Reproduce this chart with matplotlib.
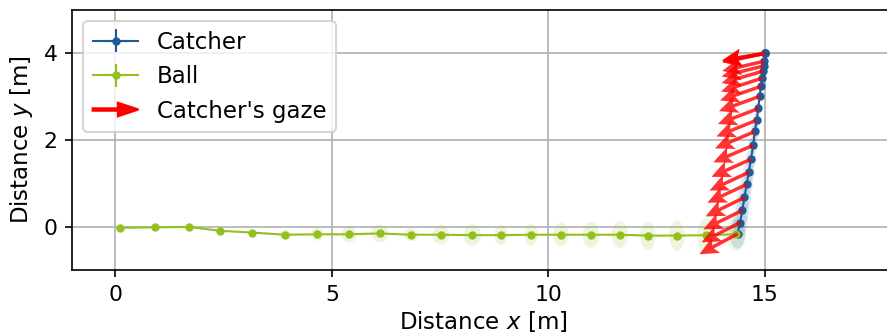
import matplotlib
matplotlib.use("Agg")
import matplotlib.pyplot as plt
import matplotlib.patches as mpatches
from matplotlib.legend_handler import HandlerPatch
import numpy as np

# positions (metres)
ball_x = [0.11, 0.92, 1.70, 2.42, 3.16, 3.92, 4.66, 5.40, 6.11, 6.83, 7.52,
          8.24, 8.91, 9.60, 10.29, 10.98, 11.65, 12.30, 12.97, 13.64, 14.33]
ball_y = [-0.02, -0.01, 0.0, -0.09, -0.13, -0.18, -0.17, -0.17, -0.15, -0.18, -0.18,
          -0.19, -0.19, -0.18, -0.18, -0.18, -0.18, -0.20, -0.20, -0.19, -0.17]
ball_w = [0.08, 0.10, 0.10, 0.12, 0.15, 0.28, 0.28, 0.35, 0.40, 0.35, 0.40,
          0.40, 0.31, 0.32, 0.35, 0.38, 0.38, 0.35, 0.35, 0.40, 0.45]
ball_h = [0.08, 0.10, 0.10, 0.12, 0.15, 0.23, 0.30, 0.38, 0.42, 0.30, 0.45,
          0.50, 0.46, 0.50, 0.55, 0.60, 0.62, 0.65, 0.70, 0.75, 0.75]

catcher_x = [15.0, 15.0, 15.0, 15.0, 14.99, 14.97, 14.96, 14.94, 14.91, 14.88, 14.85,
             14.81, 14.77, 14.73, 14.68, 14.63, 14.58, 14.53, 14.48, 14.43, 14.37]
catcher_y = [4.0, 4.0, 4.0, 4.0, 3.82, 3.71, 3.59, 3.43, 3.24, 3.01, 2.73,
             2.46, 2.20, 1.88, 1.56, 1.26, 0.98, 0.68, 0.38, 0.10, -0.16]
catcher_w = [0.08, 0.08, 0.08, 0.08, 0.10, 0.10, 0.12, 0.12, 0.14, 0.15, 0.16,
             0.18, 0.20, 0.22, 0.24, 0.26, 0.28, 0.30, 0.32, 0.34, 0.36]
catcher_h = [0.08, 0.08, 0.08, 0.08, 0.12, 0.14, 0.16, 0.18, 0.20, 0.24, 0.28,
             0.32, 0.36, 0.40, 0.44, 0.48, 0.52, 0.56, 0.60, 0.64, 0.68]

# gaze direction, degrees below the horizontal, pointing left
gaze_deg = [9, 10, 11, 12, 13, 14, 16, 18, 19, 20, 21,
            22, 23, 23, 24, 25, 25, 26, 26, 27, 28]

blue = "#1f5b98"
green = "#93c01f"


def make_arrow(legend, orig_handle, xdescent, ydescent, width, height, fontsize):
    return mpatches.FancyArrow(0, 0.5 * height, width, 0, width=0.15 * height,
                               head_width=0.85 * height, head_length=0.45 * width,
                               length_includes_head=True, color="red")


def main():
    plt.rcParams["font.size"] = 11
    plt.rcParams["xtick.labelsize"] = 10.5
    plt.rcParams["ytick.labelsize"] = 10.5
    fig = plt.figure(figsize=(887 / 150, 336 / 150), dpi=150)
    ax = fig.add_axes([72 / 887, (336 - 270.3) / 336, 822.7 / 887, 260.3 / 336])

    for x, y, w, h in zip(ball_x, ball_y, ball_w, ball_h):
        ax.add_patch(mpatches.Ellipse((x, y), w, h, color=green, alpha=0.15, lw=0))
    for x, y, w, h in zip(catcher_x, catcher_y, catcher_w, catcher_h):
        ax.add_patch(mpatches.Ellipse((x, y), w, h, color=blue, alpha=0.14, lw=0))

    zeros = np.zeros(len(ball_x))
    ax.errorbar(catcher_x, catcher_y, xerr=zeros, yerr=zeros, color=blue,
                marker="o", ms=3, lw=1, label="Catcher", zorder=3)
    ax.errorbar(ball_x, ball_y, xerr=zeros, yerr=zeros, color=green,
                marker="o", ms=3, lw=1, label="Ball", zorder=3)

    ang = np.radians(gaze_deg)
    ax.quiver(catcher_x, catcher_y, -np.cos(ang), -np.sin(ang),
              angles="xy", scale_units="xy", scale=1, color="red", alpha=0.8,
              width=0.0042, headwidth=5, headlength=5.5, headaxislength=4.5, zorder=4)

    gaze_handle = mpatches.Patch(color="red", label="Catcher's gaze")
    handles, labels = ax.get_legend_handles_labels()
    handles.append(gaze_handle)
    labels.append("Catcher's gaze")
    ax.legend(handles, labels, loc="upper left",
              handler_map={mpatches.Patch: HandlerPatch(patch_func=make_arrow)})

    ax.set_xlim(-1, 18)
    ax.set_ylim(-1, 5)
    ax.set_xticks([0, 5, 10, 15])
    ax.set_yticks([0, 2, 4])
    ax.set_xlabel("Distance $x$ [m]", labelpad=2)
    ax.set_ylabel("Distance $y$ [m]")
    ax.grid(True)
    ax.set_axisbelow(True)

    fig.savefig("out.png", dpi=150)


if __name__ == "__main__":
    main()
